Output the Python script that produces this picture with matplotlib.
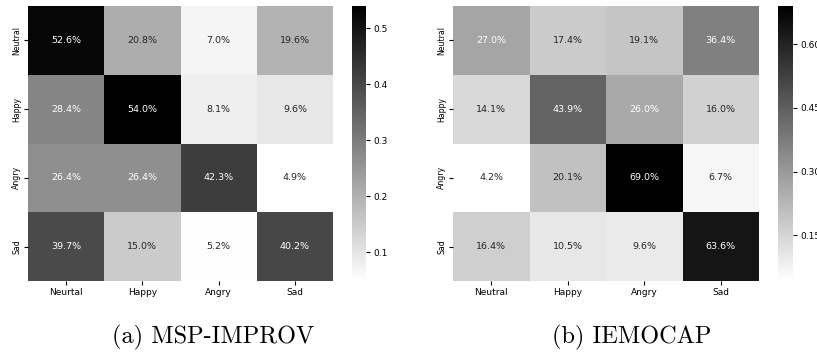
import numpy as np
import matplotlib
matplotlib.use("Agg")
from matplotlib import pyplot as plt
from matplotlib.ticker import FixedLocator, FormatStrFormatter
import seaborn as sns

# confusion matrices, rows = true class, cols = predicted class (percent)
msp_ticks_x = ["Neurtal", "Happy", "Angry", "Sad"]
msp_ticks_y = ["Neutral", "Happy", "Angry", "Sad"]
msp_vals = [
	[52.6, 20.8, 7.0, 19.6],
	[28.4, 54.0, 8.1, 9.6],
	[26.4, 26.4, 42.3, 4.9],
	[39.7, 15.0, 5.2, 40.2],
]
msp_cbar_ticks = [0.1, 0.2, 0.3, 0.4, 0.5]

iemo_ticks_x = ["Neutral", "Happy", "Angry", "Sad"]
iemo_ticks_y = ["Neutral", "Happy", "Angry", "Sad"]
iemo_vals = [
	[27.0, 17.4, 19.1, 36.4],
	[14.1, 43.9, 26.0, 16.0],
	[4.2, 20.1, 69.0, 6.7],
	[16.4, 10.5, 9.6, 63.6],
]
iemo_cbar_ticks = [0.15, 0.30, 0.45, 0.60]

captions = ["(a) MSP-IMPROV", "(b) IEMOCAP"]

W, H = 817, 353
fig = plt.figure(figsize=(W/100, H/100), dpi=100)

def box(x0, y0, x1, y1):
	return [x0/W, 1 - y1/H, (x1 - x0)/W, (y1 - y0)/H]

def draw(vals, xt, yt, cticks, cfmt, hbox, cbox):
	ax = fig.add_axes(box(*hbox))
	cax = fig.add_axes(box(*cbox))
	m = np.array(vals)/100.0
	sns.heatmap(m, ax=ax, cbar_ax=cax, cmap="gray_r", annot=True, fmt=".1%",
		annot_kws={"fontsize": 6.8}, xticklabels=xt, yticklabels=yt)
	ax.tick_params(axis="both", length=3, width=0.8, pad=2)
	ax.tick_params(axis="x", labelsize=6.5)
	ax.tick_params(axis="y", labelsize=5.6)
	for lab in ax.get_yticklabels():
		lab.set_rotation(90)
		lab.set_va("center")
	cax.yaxis.set_major_locator(FixedLocator(cticks))
	cax.yaxis.set_major_formatter(FormatStrFormatter(cfmt))
	cax.tick_params(labelsize=6.5, length=3, width=0.8, pad=2)
	return ax

draw(msp_vals, msp_ticks_x, msp_ticks_y, msp_cbar_ticks, "%.1f",
	(28, 6, 333, 281), (352, 6, 366, 281))
draw(iemo_vals, iemo_ticks_x, iemo_ticks_y, iemo_cbar_ticks, "%.2f",
	(453, 6, 759, 281), (778, 6, 793, 281))

capfont = dict(fontsize=17.5, family=["cmr10", "DejaVu Serif"], ha="center", va="baseline")
fig.text(213/W, 1 - 343/H, captions[0], **capfont)
fig.text(632/W, 1 - 343/H, captions[1], **capfont)

fig.savefig("out.png", dpi=100)
